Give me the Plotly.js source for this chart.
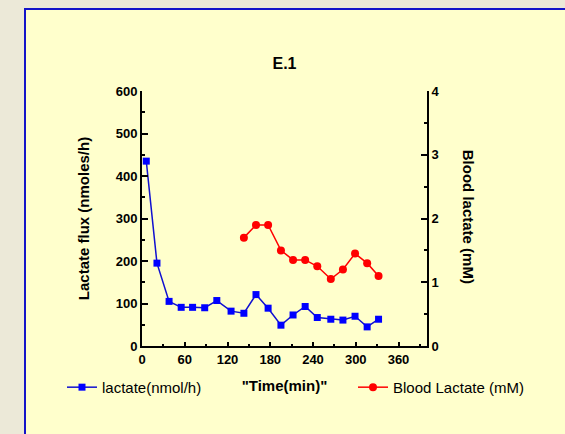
<!DOCTYPE html>
<html>
<head>
<meta charset="utf-8">
<script src="https://cdn.plot.ly/plotly-3.0.1.min.js"></script>
<style>
  html, body { margin: 0; padding: 0; background: #ECE9D8; width: 565px; height: 434px; overflow: hidden; }
  #panel { position: absolute; left: 24px; top: 8px; width: 600px; height: 500px; background: #FFFFCC;
           border-left: 2px solid #1414C8; border-top: 2px solid #1414C8; }
  #chart { position: absolute; left: 0; top: 0; width: 565px; height: 434px; }
</style>
</head>
<body>
<div id="panel"></div>
<div id="chart"></div>
<script>
// Lactate flux (nmoles/h), left axis
const fluxTime = [6, 21, 38, 55, 71, 88, 105, 125, 143, 160, 177, 195, 212, 229, 246, 265, 282, 299, 316, 332];
const fluxValues = [435, 195, 105, 91, 91, 90, 107, 82, 77, 121, 89, 49, 73, 93, 67, 63, 61, 70, 45, 63];
// Blood lactate (mM), right axis
const bloodTime = [143, 160, 177, 195, 212, 229, 246, 265, 282, 299, 316, 332];
const bloodValues = [1.70, 1.90, 1.90, 1.50, 1.35, 1.35, 1.25, 1.05, 1.20, 1.45, 1.30, 1.10];

const fontFam = 'Liberation Sans, Arial, sans-serif';

const traces = [
  {
    x: fluxTime, y: fluxValues, type: 'scatter', mode: 'lines+markers',
    name: 'lactate(nmol/h)', yaxis: 'y', legend: 'legend',
    line: {color: '#1010D0', width: 1.5},
    marker: {symbol: 'square', size: 7, color: '#0000FF'},
    hoverinfo: 'skip'
  },
  {
    x: bloodTime, y: bloodValues, type: 'scatter', mode: 'lines+markers',
    name: 'Blood Lactate (mM)', yaxis: 'y2', legend: 'legend2',
    line: {color: '#FF0000', width: 1.5},
    marker: {symbol: 'circle', size: 8, color: '#FF0000'},
    hoverinfo: 'skip'
  }
];

const tickFont = {family: fontFam, size: 13, color: '#000', weight: 'bold'};

const layout = {
  width: 565, height: 434,
  paper_bgcolor: 'rgba(0,0,0,0)', plot_bgcolor: 'rgba(0,0,0,0)',
  margin: {l: 142, r: 138, t: 91, b: 87.5, pad: 0},
  showlegend: true,
  title: {
    text: '<b>E.1</b>', font: {family: fontFam, size: 16, color: '#000'},
    x: 0.5, xref: 'paper', xanchor: 'center', y: 1 - 63/434, yanchor: 'middle'
  },
  xaxis: {
    range: [0, 400], dtick: 60, tick0: 0, ticks: 'inside', ticklen: 4, tickwidth: 2, tickcolor: '#000',
    minor: {dtick: 30, ticks: 'inside', ticklen: 2, tickwidth: 2, tickcolor: '#000'},
    showline: true, linecolor: '#000', linewidth: 2, showgrid: false, zeroline: false,
    tickfont: tickFont, fixedrange: true,
    title: {text: '<b>"Time(min)"</b>', font: {family: fontFam, size: 15, color: '#000'}, standoff: 15}
  },
  yaxis: {
    range: [0, 600], dtick: 100, ticks: 'inside', ticklen: 6, tickwidth: 2, tickcolor: '#000',
    minor: {dtick: 50, ticks: 'inside', ticklen: 3, tickwidth: 2, tickcolor: '#000'},
    showline: true, linecolor: '#000', linewidth: 2, showgrid: false, zeroline: false,
    tickfont: tickFont, fixedrange: true,
    title: {text: '<b>Lactate flux (nmoles/h)</b>', font: {family: fontFam, size: 15, color: '#000'}, standoff: 22}
  },
  yaxis2: {
    range: [0, 4], dtick: 1, overlaying: 'y', side: 'right', ticks: 'inside', ticklen: 6, tickwidth: 2, tickcolor: '#000',
    minor: {dtick: 0.5, ticks: 'inside', ticklen: 3, tickwidth: 2, tickcolor: '#000'},
    showline: true, linecolor: '#000', linewidth: 2, showgrid: false, zeroline: false,
    tickfont: tickFont, fixedrange: true
  },
  annotations: [
    {
      text: '<b>Blood lactate (mM)</b>', textangle: 90, xref: 'paper', yref: 'paper',
      x: (468 - 142) / 285, y: (346.5 - 217) / 255.5, xanchor: 'center', yanchor: 'middle',
      showarrow: false, font: {family: fontFam, size: 15, color: '#000'}
    }
  ],
  legend: {
    x: (62 - 142) / 285, y: (346.5 - 388) / 255.5, xanchor: 'left', yanchor: 'middle',
    bgcolor: 'rgba(0,0,0,0)', borderwidth: 0,
    font: {family: fontFam, size: 15, color: '#000'}
  },
  legend2: {
    x: (353 - 142) / 285, y: (346.5 - 388) / 255.5, xanchor: 'left', yanchor: 'middle',
    bgcolor: 'rgba(0,0,0,0)', borderwidth: 0,
    font: {family: fontFam, size: 15, color: '#000'}
  }
};

Plotly.newPlot('chart', traces, layout, {displayModeBar: false, staticPlot: true});
</script>
</body>
</html>
